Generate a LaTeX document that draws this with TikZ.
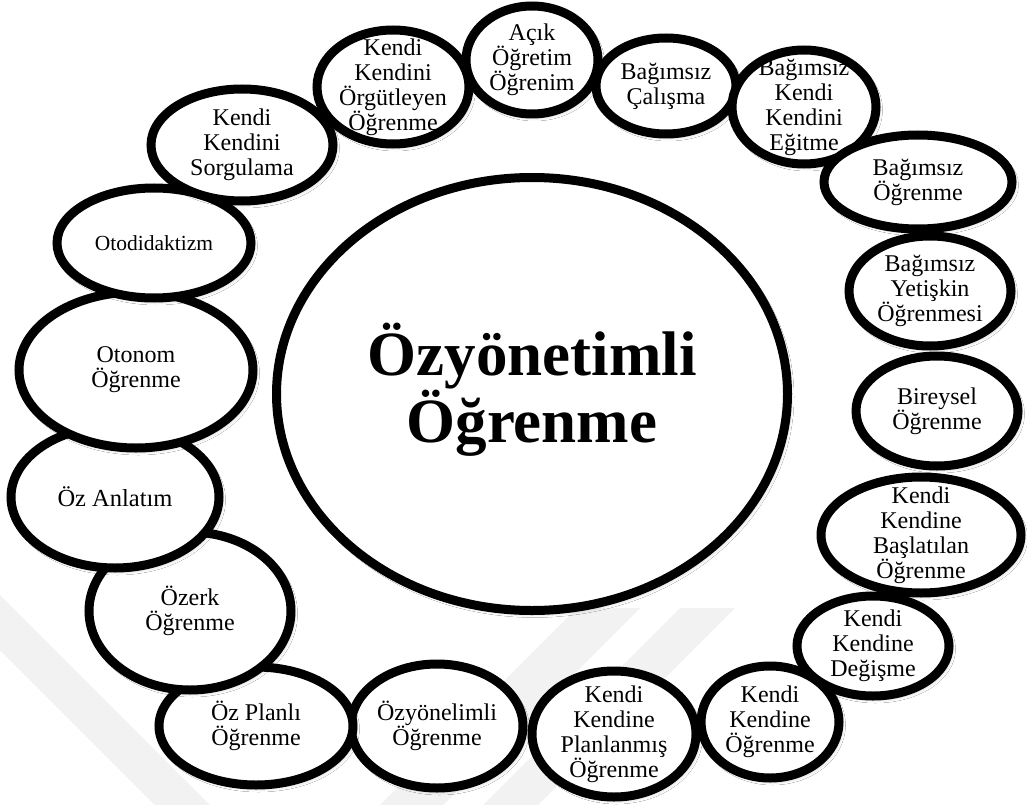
\documentclass[tikz,border=0pt]{standalone}
\usepackage{fontspec}
\setmainfont{Liberation Serif}
\usetikzlibrary{shapes.geometric,shadows.blur}

\tikzset{
  bubble/.style={ellipse, draw=black, line width=9pt, fill=white, inner sep=0pt,
    blur shadow={shadow xshift=2.5pt, shadow yshift=-3pt, shadow blur radius=4pt, shadow opacity=25}},
  caption/.style={align=center, inner sep=0pt, font=\fontsize{24}{25}\selectfont},
  band/.style={fill=black!5, draw=none}
}

% \blob[caption options]{name}{cx}{cy}{rx}{ry}{text}
\newcommand\blob[7][]{%
  \node[bubble, minimum width=#5*2pt, minimum height=#6*2pt] (#2) at (#3,#4) {};
  \node[caption,#1] (#2-t) at (#2.center) {#7};
}

\begin{document}
\begin{tikzpicture}[x=1pt,y=-1pt]
  \useasboundingbox (0,0) rectangle (1027,805);
  \fill[white] (0,0) rectangle (1027,805);

  % faint background bands
  \fill[band] (0,595) -- (210,805) -- (155,805) -- (0,650) -- cycle;
  \fill[band] (577,608) -- (640,608) -- (443,805) -- (380,805) -- cycle;
  \fill[band] (680,608) -- (735,608) -- (538,805) -- (483,805) -- cycle;

  % central concept
  \node[bubble, minimum width=511pt, minimum height=433pt] (core) at (532,394) {};
  \node[align=center, inner sep=0pt, font=\fontsize{63}{65}\selectfont\bfseries] (core-t) at (532,390)
    {Özyönetimli\\Öğrenme};

  % surrounding terms, lower ones first
  \blob{plan}{614}{734}{82}{63}{Kendi\\Kendine\\Planlanmış\\Öğrenme}
  \blob{ozyon}{437}{726}{86}{62}{Özyönelimli\\Öğrenme}
  \blob{ozplan}{256}{726}{97}{59}{Öz Planlı\\Öğrenme}
  \blob{ozerk}{190}{611}{101}{79}{Özerk\\Öğrenme}
  \blob[font=\fontsize{24.5}{26}\selectfont]{anlat}{115}{497}{104}{71}{Öz Anlatım}
  \blob{otonom}{136}{370}{117}{78}{Otonom\\Öğrenme}
  \blob[font=\fontsize{21.5}{23}\selectfont]{otodi}{154}{243}{97}{55}{Otodidaktizm}
  \blob{sorgu}{242}{145}{91}{56}{Kendi\\Kendini\\Sorgulama}
  \blob{acik}{532}{60}{66}{54}{Açık\\Öğretim\\Öğrenim}
  \blob{orgut}{393}{87}{76}{57}{Kendi\\Kendini\\Örgütleyen\\Öğrenme}
  \blob{calis}{666}{86}{70}{48}{Bağımsız\\Çalışma}
  \blob{egit}{804}{107}{72}{57}{Bağımsız\\Kendi\\Kendini\\Eğitme}
  \blob{kkogr}{770}{722}{69}{56}{Kendi\\Kendine\\Öğrenme}
  \blob{degis}{873}{646}{76}{50}{Kendi\\Kendine\\Değişme}
  \blob{baslat}{921}{535}{100}{58}{Kendi\\Kendine\\Başlatılan\\Öğrenme}
  \blob{birey}{937}{411}{81}{55}{Bireysel\\Öğrenme}
  \blob{yetis}{930}{291}{81}{55}{Bağımsız\\Yetişkin\\Öğrenmesi}
  \blob{bagogr}{918}{182}{94}{47}{Bağımsız\\Öğrenme}
\end{tikzpicture}
\end{document}
